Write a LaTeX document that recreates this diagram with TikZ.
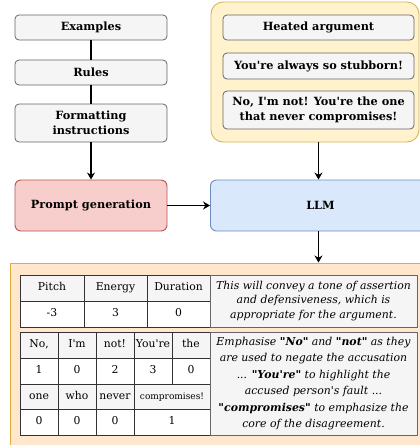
\documentclass[tikz,border=0pt]{standalone}
\usepackage{fontspec}
\setmainfont{DejaVu Serif}[Ligatures=TeXOff]
\usetikzlibrary{arrows.meta}
\definecolor{grayfill}{HTML}{F5F5F5}
\definecolor{grayline}{HTML}{666666}
\definecolor{yelfill}{HTML}{FFF2CC}
\definecolor{yelline}{HTML}{D6B656}
\definecolor{redfill}{HTML}{F8CECC}
\definecolor{redline}{HTML}{B85450}
\definecolor{bluefill}{HTML}{DAE8FC}
\definecolor{blueline}{HTML}{6C8EBF}
\definecolor{orfill}{HTML}{FFE6CC}
\definecolor{orline}{HTML}{E0AC3A}
\definecolor{tabline}{HTML}{333333}
\tikzset{
  smallbox/.style={draw=grayline, fill=grayfill, rounded corners=4pt, line width=0.8pt,
    align=center, inner sep=0pt, font=\fontsize{11.3}{14.5}\selectfont\bfseries},
  bigbox/.style={rounded corners=6pt, line width=0.9pt, inner sep=0pt,
    font=\fontsize{11.3}{13}\selectfont\bfseries},
  cellbox/.style={draw=tabline, line width=0.9pt, inner sep=0pt,
    text height=8pt, text depth=2.5pt, font=\fontsize{10.8}{12}\selectfont},
  txtbox/.style={draw=grayline, fill=grayfill, line width=0.9pt, inner sep=0pt, align=center,
    font=\fontsize{10.9}{14.8}\selectfont\itshape},
  arr/.style={draw=black, line width=1.1pt, -{Stealth[length=7pt,width=8pt]}},
  plain/.style={draw=black, line width=1.1pt},
}
\newcommand{\mycell}[7]{%
  \node[cellbox, fill=#6, minimum width={(#4)*1pt-(#2)*1pt}, minimum height={(#5)*1pt-(#3)*1pt}]
    (#1) at ({((#2)+(#4))/2},{((#3)+(#5))/2}) {#7};}
\begin{document}
\begin{tikzpicture}[x=1pt,y=-1pt]
\useasboundingbox (0,0) rectangle (420,445);
\clip (0,0) rectangle (420,445);
% left column
\node[smallbox, minimum width=152pt, minimum height=25pt] (ex) at (91,27.5) {Examples};
\node[smallbox, minimum width=152pt, minimum height=25pt] (ru) at (91,72.5) {Rules};
\node[smallbox, minimum width=152pt, minimum height=38pt] (fm) at (91,123) {Formatting\\instructions};
% yellow container
\node[draw=yelline, fill=yelfill, rounded corners=12pt, line width=0.9pt,
  minimum width=208pt, minimum height=140pt, inner sep=0pt] (yc) at (315,72) {};
\node[smallbox, minimum width=191pt, minimum height=25pt] (ha) at (318.5,27.5) {Heated argument};
\node[smallbox, minimum width=191pt, minimum height=26pt] (st) at (318.5,66) {You're always so stubborn!};
\node[smallbox, minimum width=191pt, minimum height=38pt] (nm) at (318.5,110) {No, I'm not! You're the one\\that never compromises!};
% process
\node[bigbox, draw=redline, fill=redfill, minimum width=152pt, minimum height=51pt] (pg) at (91,205.5) {Prompt generation};
\node[bigbox, draw=blueline, fill=bluefill, minimum width=220pt, minimum height=51pt] (llm) at (320.5,205.5) {LLM};
% output container
\node[draw=orline, fill=orfill, line width=1pt, minimum width=420pt, minimum height=190pt, inner sep=0pt] (oc) at (220,358) {};
% connectors
\draw[plain] (ex) -- (ru);
\draw[plain] (ru) -- (fm);
\draw[arr] (fm) -- (pg);
\draw[arr] (nm.south |- yc.south) -- (nm.south |- llm.north);
\draw[arr] (pg) -- (llm);
\draw[arr] (nm.south |- llm.south) -- (nm.south |- oc.north);
% table 1
\mycell{p1}{20}{275}{84}{301}{grayfill}{Pitch}
\mycell{p2}{84}{275}{147}{301}{grayfill}{Energy}
\mycell{p3}{147}{275}{210}{301}{grayfill}{Duration}
\mycell{v1}{20}{301}{84}{327}{white}{-3}
\mycell{v2}{84}{301}{147}{327}{white}{3}
\mycell{v3}{147}{301}{210}{327}{white}{0}
\node[txtbox, minimum width=207pt, minimum height=52pt] (t1) at (313.5,301)
 {This will convey a tone of assertion\\and defensiveness, which is\\appropriate for the argument.};
% table 2
\mycell{w1}{20}{332}{58}{358}{grayfill}{No,}
\mycell{w2}{58}{332}{96}{358}{grayfill}{I'm}
\mycell{w3}{96}{332}{134}{358}{grayfill}{not!}
\mycell{w4}{134}{332}{172}{358}{grayfill}{You're}
\mycell{w5}{172}{332}{210}{358}{grayfill}{the}
\mycell{a1}{20}{358}{58}{384}{white}{1}
\mycell{a2}{58}{358}{96}{384}{white}{0}
\mycell{a3}{96}{358}{134}{384}{white}{2}
\mycell{a4}{134}{358}{172}{384}{white}{3}
\mycell{a5}{172}{358}{210}{384}{white}{0}
\mycell{w6}{20}{384}{58}{409}{grayfill}{one}
\mycell{w7}{58}{384}{96}{409}{grayfill}{who}
\mycell{w8}{96}{384}{134}{409}{grayfill}{never}
\mycell{w9}{134}{384}{210}{409}{grayfill}{\fontsize{9}{10}\selectfont compromises!}
\mycell{b1}{20}{409}{58}{435}{white}{0}
\mycell{b2}{58}{409}{96}{435}{white}{0}
\mycell{b3}{96}{409}{134}{435}{white}{0}
\mycell{b4}{134}{409}{210}{435}{white}{1}
\node[txtbox, minimum width=207pt, minimum height=103pt, font=\fontsize{10.9}{16.5}\selectfont\itshape] (t2) at (313.5,383.5)
 {Emphasise \textbf{"No"} and \textbf{"not"} as they\\are used to negate the accusation\\... \textbf{"You're"} to highlight the\\accused person's fault ...\\\textbf{"compromises"} to emphasize the\\core of the disagreement.};
\end{tikzpicture}
\end{document}
